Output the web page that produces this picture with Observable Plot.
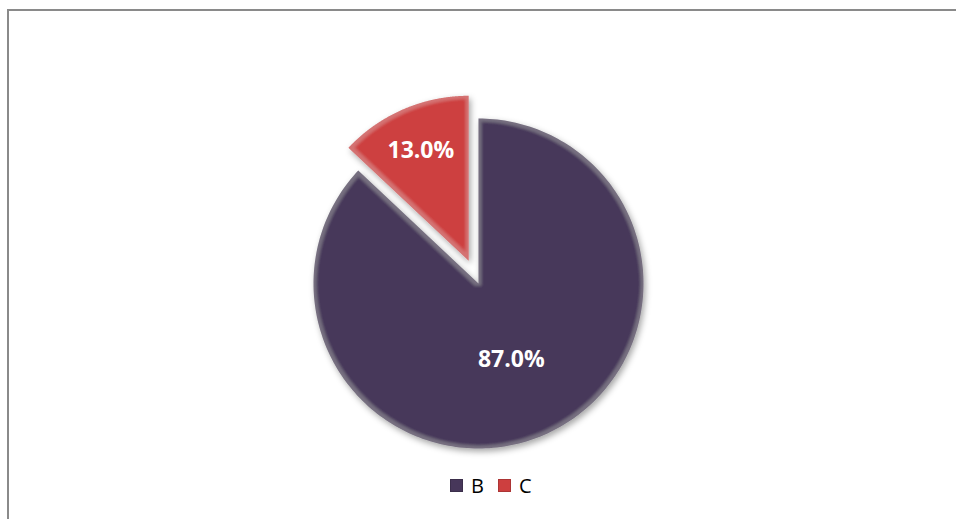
<!DOCTYPE html>
<html>
<head>
<meta charset="utf-8">
<script src="https://cdn.jsdelivr.net/npm/d3@7"></script>
<script src="https://cdn.jsdelivr.net/npm/@observablehq/plot@0.6"></script>
<style>
  html, body { margin: 0; padding: 0; background: #fff; overflow: hidden; }
  #wrap { position: relative; width: 956px; height: 519px; overflow: hidden; }
  #frame { position: absolute; left: 7px; top: 9px; width: 1000px; height: 600px;
           border-left: 2px solid #8a8a8a; border-top: 2px solid #8a8a8a; }
  #chart { position: absolute; left: 0; top: 0; }
  #legend { position: absolute; left: 450px; top: 472px; display: flex; align-items: center;
            font-family: "Open Sans", sans-serif; font-size: 20px; color: #000; }
  .item { display: flex; align-items: center; margin-right: 14px; }
  .sw { width: 13px; height: 13px; margin-right: 8px; box-sizing: border-box; }
</style>
</head>
<body>
<div id="wrap">
  <div id="frame"></div>
  <div id="chart"></div>
  <div id="legend"></div>
</div>
<script>
// ---- data ----
const categories = ["B", "C"];
const values = [87.0, 13.0];
const labels = ["87.0%", "13.0%"];
const colors = ["#47375a", "#cd3f3f"];
const explode = [0, 0.15];        // fraction of radius
const labelRadius = [0.5, 0.73];  // fraction of radius

// ---- geometry via d3.pie ----
const arcs = d3.pie().sort(null).value(d => d)(values);
const wedgePts = [];
const labelPts = [];
arcs.forEach((a, i) => {
  const mid = (a.startAngle + a.endAngle) / 2;
  const ox = Math.sin(mid) * explode[i];
  const oy = Math.cos(mid) * explode[i];
  wedgePts.push({slice: categories[i], x: ox, y: oy});
  const n = 240;
  for (let k = 0; k <= n; k++) {
    const t = a.startAngle + (a.endAngle - a.startAngle) * k / n;
    wedgePts.push({slice: categories[i], x: ox + Math.sin(t), y: oy + Math.cos(t)});
  }
  wedgePts.push({slice: categories[i], x: ox, y: oy});
  labelPts.push({slice: categories[i], label: labels[i],
    x: ox + Math.sin(mid) * labelRadius[i], y: oy + Math.cos(mid) * labelRadius[i]});
});

const svg = Plot.plot({
  width: 956,
  height: 470,
  x: {domain: [-1, 1], range: [313, 643], axis: null},
  y: {domain: [-1, 1], range: [448, 118], axis: null},
  color: {domain: categories, range: colors},
  marks: [
    Plot.line(wedgePts, {x: "x", y: "y", z: "slice", fill: "slice", stroke: "none", curve: "linear"}),
    Plot.text(labelPts, {x: "x", y: "y", text: "label", fill: "white", fontSize: 23,
      fontWeight: "bold", fontFamily: "Open Sans, sans-serif"})
  ],
  style: {background: "transparent", overflow: "visible"}
});

// bevel rim + shadow effect
const ns = "http://www.w3.org/2000/svg";
const defs = document.createElementNS(ns, "defs");
defs.innerHTML = `
<filter id="bevel" x="-15%" y="-15%" width="130%" height="130%">
  <feGaussianBlur in="SourceAlpha" stdDeviation="3" result="sblur"/>
  <feOffset in="sblur" dx="2" dy="3" result="soff"/>
  <feFlood flood-color="#000" flood-opacity="0.35" result="scol"/>
  <feComposite in="scol" in2="soff" operator="in" result="shadow"/>
  <feMorphology in="SourceAlpha" operator="erode" radius="3" result="er"/>
  <feGaussianBlur in="er" stdDeviation="1.5" result="erb"/>
  <feComposite in="SourceAlpha" in2="erb" operator="out" result="rim"/>
  <feFlood flood-color="#ffffff" flood-opacity="0.13" result="rcol"/>
  <feComposite in="rcol" in2="rim" operator="in" result="rimc"/>
  <feMerge>
    <feMergeNode in="shadow"/>
    <feMergeNode in="SourceGraphic"/>
    <feMergeNode in="rimc"/>
  </feMerge>
</filter>`;
svg.insertBefore(defs, svg.firstChild);
svg.querySelectorAll('g[aria-label="line"] path').forEach(p => p.setAttribute("filter", "url(#bevel)"));

document.getElementById("chart").appendChild(svg);

// legend
const leg = document.getElementById("legend");
categories.forEach((c, i) => {
  const it = document.createElement("div");
  it.className = "item";
  const sw = document.createElement("div");
  sw.className = "sw";
  sw.style.background = colors[i];
  sw.style.border = "1px solid " + d3.color(colors[i]).darker(0.5);
  const tx = document.createElement("span");
  tx.textContent = c;
  it.appendChild(sw); it.appendChild(tx);
  leg.appendChild(it);
});
</script>
</body>
</html>
